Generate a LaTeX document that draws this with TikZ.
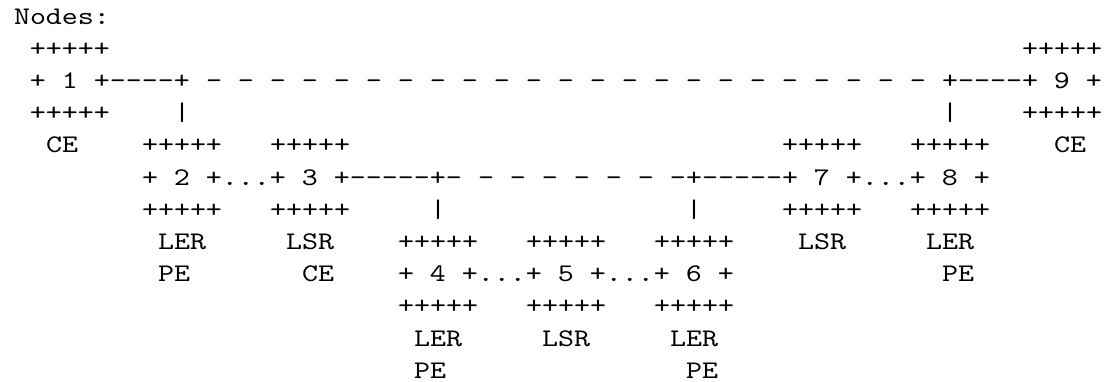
\documentclass[tikz,border=0pt]{standalone}
\usepackage{fontspec}
\setmonofont{lmmono10-regular.otf}[FakeStretch=1.203]
\newcommand\asciiat[4]{\node[asc] (#1) at ({10.5+12*(#3)},{-18.0-24.15*(#2)}) {#4};}
\begin{document}
\begin{tikzpicture}[x=1pt,y=1pt,
  asc/.style={anchor=base west, inner sep=0pt, outer sep=0pt,
    font=\ttfamily\fontsize{19}{19}\selectfont, text=black}]
\useasboundingbox[fill=white] (0,0) rectangle (833.25,-286.5);
\asciiat{title}{0}{0}{Nodes:}
\asciiat{n1top}{1}{1}{+++++}
\asciiat{n9top}{1}{63}{+++++}
\asciiat{n1mid}{2}{1}{+ 1 +----+}
\asciiat{topdash}{2}{12}{- - - - - - - - - - - - - - - - - - - - - - -}
\asciiat{n9mid}{2}{58}{+----+ 9 +}
\asciiat{n1bot}{3}{1}{+++++}
\asciiat{barA}{3}{10}{|}
\asciiat{barB}{3}{58}{|}
\asciiat{n9bot}{3}{63}{+++++}
\asciiat{n1lab}{4}{2}{CE}
\asciiat{n2top}{4}{8}{+++++}
\asciiat{n3top}{4}{16}{+++++}
\asciiat{n7top}{4}{48}{+++++}
\asciiat{n8top}{4}{56}{+++++}
\asciiat{n9lab}{4}{65}{CE}
\asciiat{n23mid}{5}{8}{+ 2 +...+ 3 +-----+-}
\asciiat{middash}{5}{29}{- - - - - - -}
\asciiat{n78mid}{5}{42}{+-----+ 7 +...+ 8 +}
\asciiat{n2bot}{6}{8}{+++++}
\asciiat{n3bot}{6}{16}{+++++}
\asciiat{barC}{6}{26}{|}
\asciiat{barD}{6}{42}{|}
\asciiat{n7bot}{6}{48}{+++++}
\asciiat{n8bot}{6}{56}{+++++}
\asciiat{n2lab}{7}{9}{LER}
\asciiat{n3lab}{7}{17}{LSR}
\asciiat{n4top}{7}{24}{+++++}
\asciiat{n5top}{7}{32}{+++++}
\asciiat{n6top}{7}{40}{+++++}
\asciiat{n7lab}{7}{49}{LSR}
\asciiat{n8lab}{7}{57}{LER}
\asciiat{n2pe}{8}{9}{PE}
\asciiat{n3ce}{8}{18}{CE}
\asciiat{n456mid}{8}{24}{+ 4 +...+ 5 +...+ 6 +}
\asciiat{n8pe}{8}{58}{PE}
\asciiat{n4bot}{9}{24}{+++++}
\asciiat{n5bot}{9}{32}{+++++}
\asciiat{n6bot}{9}{40}{+++++}
\asciiat{n4lab}{10}{25}{LER}
\asciiat{n5lab}{10}{33}{LSR}
\asciiat{n6lab}{10}{41}{LER}
\asciiat{n4pe}{11}{25}{PE}
\asciiat{n6pe}{11}{42}{PE}
\end{tikzpicture}
\end{document}
